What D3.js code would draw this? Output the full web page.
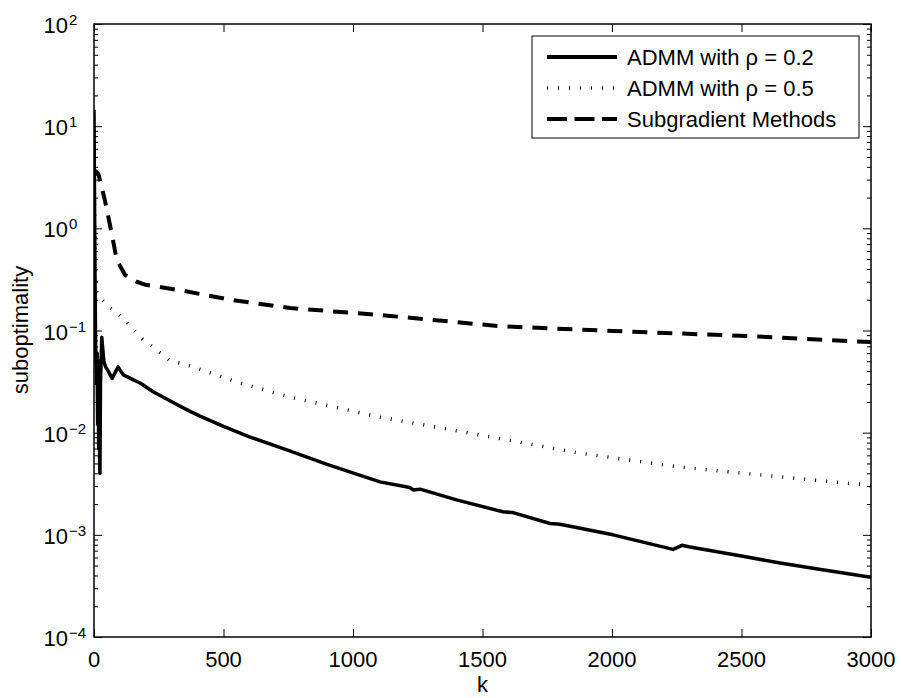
<!DOCTYPE html>
<meta charset="utf-8">
<style>
body { margin: 0; background: #fff; }
text { font-family: "Liberation Sans", Arial, sans-serif; fill: #000; }
.axis path { display: none; }
.axis line { stroke: #000; stroke-width: 1; }
</style>
<svg width="901" height="698"></svg>
<script src="https://cdn.jsdelivr.net/npm/d3@7"></script>
<script>

// ADMM rho = 0.2 (solid)
var kSolid = [0, 2, 4, 6, 8, 10, 12, 14, 16, 18, 20, 22, 23, 25, 30, 33, 38, 45, 55, 70, 80, 93,
  112, 140, 178, 230, 293, 350, 409, 500, 600, 750, 900, 1104, 1220, 1232, 1259, 1400, 1579,
  1618, 1761, 1799, 2004, 2236, 2270, 2301, 2500, 2649, 2800, 3000];
var vSolid = [14.5, 2, 0.3, 0.08, 0.05, 0.03, 0.06, 0.012, 0.05, 0.007, 0.05, 0.0045, 0.004, 0.03,
  0.086, 0.07, 0.05, 0.044, 0.04, 0.034, 0.038, 0.044,
  0.037, 0.034, 0.0306, 0.025, 0.0205, 0.0172, 0.0145, 0.0115, 0.0091, 0.0067, 0.0049, 0.0033,
  0.0029, 0.00275, 0.0028, 0.0022, 0.00168,
  0.00165, 0.00129, 0.00127, 0.001, 0.00072, 0.00079, 0.00076, 0.00062, 0.00053, 0.00046, 0.000385];

// ADMM rho = 0.5 (dotted)
var kDot = [0, 3, 6, 10, 20, 35, 62, 112, 178, 293, 371, 564, 757, 1104, 1490, 1876, 2263, 2649, 2969, 3000];
var vDot = [6, 1.2, 0.4, 0.24, 0.21, 0.195, 0.166, 0.133, 0.086, 0.051, 0.045, 0.0306, 0.0223, 0.0142,
  0.0095, 0.0063, 0.0046, 0.0037, 0.0031, 0.003];

// Subgradient methods (dashed)
var kDash = [2, 8, 17, 42, 68, 88, 120, 165, 200, 344, 525, 757, 1143, 1568, 2004, 2533, 3000];
var vDash = [3.3, 3.6, 3.4, 1.89, 0.9, 0.49, 0.35, 0.30, 0.28, 0.245, 0.2, 0.166, 0.139, 0.11, 0.099, 0.088, 0.077];

var xTicks = [0, 500, 1000, 1500, 2000, 2500, 3000];
var yExps = [-4, -3, -2, -1, 0, 1, 2];
var legendNames = ["ADMM with \u03c1 = 0.2", "ADMM with \u03c1 = 0.5", "Subgradient Methods"];

var svg = d3.select("svg"),
    margin = {top: 24, right: 30, bottom: 61, left: 94},
    w = 871 - margin.left,
    h = 637 - margin.top;

var x = d3.scaleLinear().domain([0, 3000]).range([0, w]),
    y = d3.scaleLog().domain([1e-4, 1e2]).range([h, 0]);

var g = svg.append("g").attr("transform", "translate(" + margin.left + "," + margin.top + ")");

var majors = yExps.map(function(e) { return Math.pow(10, e); });
var minors = [];
yExps.slice(0, -1).forEach(function(e) {
  for (var m = 2; m < 10; m++) minors.push(m * Math.pow(10, e));
});

// ticks, all pointing inward
g.append("g").attr("class", "axis").attr("transform", "translate(0," + h + ")")
  .call(d3.axisBottom(x).tickValues(xTicks).tickSize(-8).tickSizeOuter(0).tickFormat(""));
g.append("g").attr("class", "axis")
  .call(d3.axisTop(x).tickValues(xTicks).tickSize(-8).tickSizeOuter(0).tickFormat(""));
g.append("g").attr("class", "axis")
  .call(d3.axisLeft(y).tickValues(majors).tickSize(-8).tickSizeOuter(0).tickFormat(""));
g.append("g").attr("class", "axis")
  .call(d3.axisLeft(y).tickValues(minors).tickSize(-4).tickSizeOuter(0).tickFormat(""));
g.append("g").attr("class", "axis").attr("transform", "translate(" + w + ",0)")
  .call(d3.axisRight(y).tickValues(majors).tickSize(-8).tickSizeOuter(0).tickFormat(""));
g.append("g").attr("class", "axis").attr("transform", "translate(" + w + ",0)")
  .call(d3.axisRight(y).tickValues(minors).tickSize(-4).tickSizeOuter(0).tickFormat(""));

// frame
g.append("rect").attr("width", w).attr("height", h)
  .attr("fill", "none").attr("stroke", "#000").attr("stroke-width", 1.5);

// x tick labels
g.selectAll(".xlab").data(xTicks).enter().append("text")
  .attr("x", function(d) { return x(d); })
  .attr("y", h + 30)
  .attr("text-anchor", "middle")
  .style("font-size", "22px")
  .text(function(d) { return d; });

// y tick labels 10^e
g.selectAll(".ylab").data(yExps).enter().append("text")
  .attr("x", 68 - margin.left)
  .attr("y", function(d) { return y(Math.pow(10, d)) + 9; })
  .attr("text-anchor", "end")
  .style("font-size", "22px")
  .text("10");
g.selectAll(".yexp").data(yExps).enter().append("text")
  .attr("x", 69 - margin.left)
  .attr("y", function(d) { return y(Math.pow(10, d)) + 1; })
  .style("font-size", "15px")
  .text(function(d) { return d < 0 ? "\u2212" + (-d) : d; });

// axis titles
g.append("text")
  .attr("x", w / 2).attr("y", h + 55)
  .attr("text-anchor", "middle")
  .style("font-size", "22px")
  .text("k");
g.append("text")
  .attr("transform", "translate(" + (28 - margin.left) + "," + (330 - margin.top) + ") rotate(-90)")
  .attr("text-anchor", "middle")
  .style("font-size", "22px")
  .text("suboptimality");

var line = d3.line()
    .x(function(d) { return x(d[0]); })
    .y(function(d) { return y(d[1]); });

var styles = [
  {width: 3.5, dash: null},
  {width: 3.5, dash: "1,10"},
  {width: 4, dash: "15,10"}
];
var series = [d3.zip(kSolid, vSolid), d3.zip(kDot, vDot), d3.zip(kDash, vDash)];

g.append("clipPath").attr("id", "clip").append("rect").attr("width", w).attr("height", h);

var plot = g.append("g").attr("clip-path", "url(#clip)");
series.forEach(function(s, i) {
  plot.append("path")
    .attr("d", line(s))
    .attr("fill", "none")
    .attr("stroke", "#000")
    .attr("stroke-width", styles[i].width)
    .attr("stroke-dasharray", styles[i].dash)
    .attr("stroke-linejoin", "round");
});

// legend
var leg = svg.append("g");
leg.append("rect")
  .attr("x", 532).attr("y", 36).attr("width", 327).attr("height", 102)
  .attr("fill", "#fff").attr("stroke", "#000").attr("stroke-width", 1);
legendNames.forEach(function(name, i) {
  var by = 65 + i * 31;
  leg.append("line")
    .attr("x1", 547).attr("x2", 617).attr("y1", by - 8).attr("y2", by - 8)
    .attr("stroke", "#000")
    .attr("stroke-width", i == 1 ? 3.5 : 4)
    .attr("stroke-dasharray", i == 1 ? "1,10" : (i == 2 ? "20,7.5" : null));
  leg.append("text")
    .attr("x", 627).attr("y", by)
    .style("font-size", "22px")
    .text(name);
});

</script>
